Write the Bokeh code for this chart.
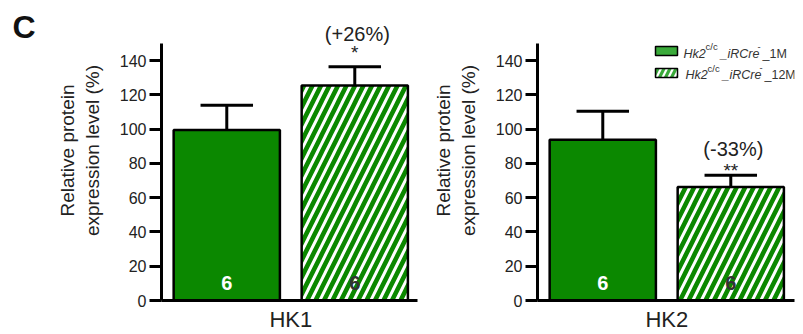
from bokeh.plotting import figure
from bokeh.layouts import row
from bokeh.models import Label, FixedTicker, Range1d, ColumnDataSource
from bokeh.core.properties import value
from bokeh.embed import file_html
from bokeh.resources import INLINE

# ---- data ----
proteins = ["HK1", "HK2"]
groups = ["Hk2c/c_iRCre-_1M", "Hk2c/c_iRCre-_12M"]
hk1_mean = [99.5, 125.5]
hk1_sem = [14.5, 11.0]
hk2_mean = [93.8, 66.3]
hk2_sem = [16.6, 6.8]
n_animals = [6, 6]
changes = ["(+26%)", "(-33%)"]
stars = ["*", "**"]
y_ticks = [0, 20, 40, 60, 80, 100, 120, 140]

GREEN = "#0b8800"
LEG_GREEN = "#3aaa3a"
TXT = "#222222"
FONT = "Liberation Sans"
H = 334
FRAME_BOTTOM = 300               # page y of value 0
PXU = 128.0                      # px per category unit
PXV = 257.0 / 150.0              # px per value unit


def vy(page_y):
    return (FRAME_BOTTOM - page_y) / PXV


def make_panel(name, mean, sem, change, star, change_dy, star_dy,
               width, bl, br, frame_left, frame_w):
    x0 = 0.49
    p = figure(width=width, height=H, output_backend="svg", toolbar_location=None,
               x_range=Range1d(x0, x0 + frame_w / PXU),
               y_range=Range1d(0, FRAME_BOTTOM / PXV),
               min_border_left=bl, min_border_right=br, min_border_top=0,
               min_border_bottom=H - FRAME_BOTTOM)
    p.outline_line_color = None
    p.xgrid.visible = False
    p.ygrid.visible = False

    def vx(page_x):
        return x0 + (page_x - frame_left) / PXU

    xs = [1, 2]
    # bars
    p.vbar(x=[xs[0]], top=[mean[0]], width=0.83, fill_color=GREEN,
           line_color="black", line_width=2.5)
    p.vbar(x=[xs[1]], top=[mean[1]], width=0.83, fill_color=GREEN,
           line_color="black", line_width=2.5, hatch_pattern="/",
           hatch_color="white", hatch_scale=17, hatch_weight=3)
    # error bars
    tops = [m + s for m, s in zip(mean, sem)]
    p.segment(x0=xs, y0=mean, x1=xs, y1=tops, line_color="black", line_width=3)
    p.segment(x0=[x - 0.205 for x in xs], y0=tops, x1=[x + 0.205 for x in xs],
              y1=tops, line_color="black", line_width=3)
    # n labels
    src = ColumnDataSource(dict(x=xs, y=[10.5, 10.5], t=[str(n) for n in n_animals],
                                c=["white", "#333333"]))
    p.text(x="x", y="y", text="t", source=src, text_color="c",
           text_font=value(FONT), text_font_size="20px", text_font_style="bold",
           text_align="center", text_baseline="middle")

    # y axis
    ya = p.yaxis[0]
    ya.ticker = FixedTicker(ticks=y_ticks)
    ya.bounds = (0, 150)
    ya.axis_line_width = 3
    ya.major_tick_line_width = 3
    ya.major_tick_out = 12
    ya.major_tick_in = 0
    ya.minor_tick_line_color = None
    ya.major_label_text_font = FONT
    ya.major_label_text_font_size = "16px"
    ya.major_label_text_color = TXT
    ya.major_label_standoff = 3
    ya.axis_label = "Relative protein\nexpression level (%)"
    ya.axis_label_text_font = FONT
    ya.axis_label_text_font_size = "19px"
    ya.axis_label_text_font_style = "normal"
    ya.axis_label_text_color = TXT
    ya.axis_label_standoff = 14

    # x axis (category label as its only tick label)
    xa = p.xaxis[0]
    xa.ticker = FixedTicker(ticks=[1.5])
    xa.major_label_overrides = {1.5: name}
    xa.axis_line_width = 3
    xa.major_tick_line_color = None
    xa.major_tick_out = 0
    xa.major_tick_in = 0
    xa.minor_tick_line_color = None
    xa.major_label_text_font = FONT
    xa.major_label_text_font_size = "22px"
    xa.major_label_text_color = TXT
    xa.major_label_standoff = 6

    # change + significance
    cy = mean[1] + sem[1]
    p.add_layout(Label(x=2.02, y=cy + change_dy, text=change, text_font=FONT,
                       text_font_size="20px", text_color=TXT, text_align="center",
                       text_baseline="alphabetic"))
    p.add_layout(Label(x=2.0, y=cy + star_dy, text=star, text_font=FONT,
                       text_font_size="19px", text_color=TXT, text_align="center",
                       text_baseline="alphabetic"))
    return p, vx


# panel letter
cfig = figure(width=48, height=H, output_backend="svg", toolbar_location=None,
              x_range=Range1d(0, 48), y_range=Range1d(0, H),
              min_border_left=0, min_border_right=0, min_border_top=0,
              min_border_bottom=0)
cfig.axis.visible = False
cfig.grid.visible = False
cfig.outline_line_color = None
cfig.add_layout(Label(x=12, y=H - 30, text="C", text_font=FONT,
                      text_font_size="32px", text_font_style="bold",
                      text_color="#111111", text_align="left",
                      text_baseline="alphabetic"))

left, lvx = make_panel(proteins[0], hk1_mean, hk1_sem, changes[0], stars[0],
                       19.3, 8.0, width=373, bl=113, br=4, frame_left=161,
                       frame_w=256)
right, rvx = make_panel(proteins[1], hk2_mean, hk2_sem, changes[1], stars[1],
                        15.6, 2.5, width=382, bl=116, br=9, frame_left=537,
                        frame_w=257)

# legend (manual, for mixed italic/superscript text)
sw_x = rvx(666)
right.rect(x=[sw_x], y=[vy(50.5)], width=22, height=9, width_units="screen",
           height_units="screen", fill_color=LEG_GREEN, line_color="black",
           line_width=1.5)
right.rect(x=[sw_x], y=[vy(72.5)], width=22, height=9, width_units="screen",
           height_units="screen", fill_color=LEG_GREEN, line_color="black",
           line_width=1.5, hatch_pattern="/", hatch_color="white", hatch_scale=12,
           hatch_weight=2.2)

for i, (base_y, sup_y, dx) in enumerate([(53.5, 46, 0), (74.5, 67.5, 2)]):
    suffix = groups[i].split("-")[-1]
    pieces = [
        ("Hk2", 683, base_y, "12.5px", "italic"),
        ("c/c", 705, sup_y, "9.5px", "normal"),
        ("_iRCre", 720, base_y, "12.5px", "italic"),
        ("-", 757, sup_y, "9.5px", "normal"),
        (suffix, 762, base_y, "12.5px", "normal"),
    ]
    for t, px, py, fs, st in pieces:
        right.add_layout(Label(x=rvx(px + dx), y=vy(py), text=t, text_font=FONT,
                               text_font_size=fs, text_font_style=st,
                               text_color="#333333", text_align="left",
                               text_baseline="alphabetic"))

layout = row(cfig, left, right)
open("out.html", "w").write(file_html(layout, INLINE))
